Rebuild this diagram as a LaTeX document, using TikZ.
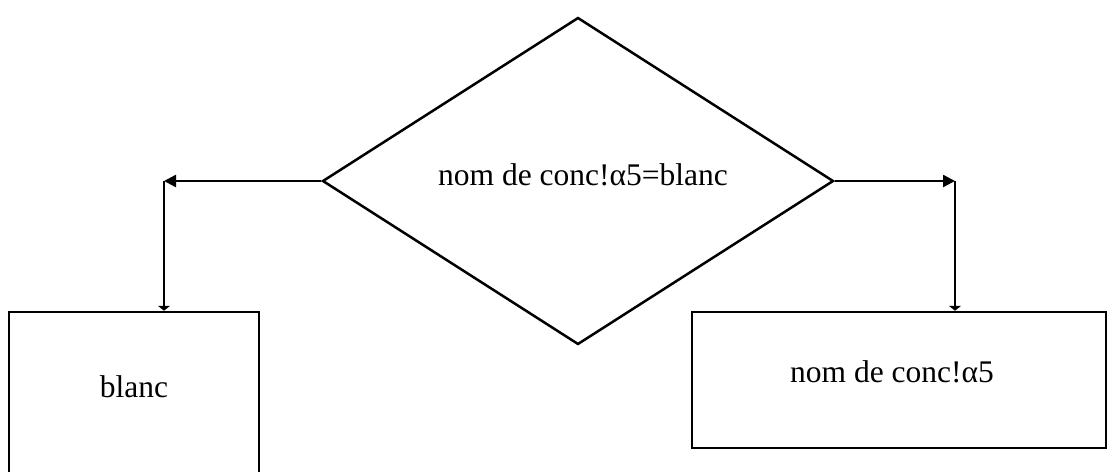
\documentclass[tikz,border=0pt]{standalone}
\usepackage{fontspec}
\setmainfont{Liberation Serif}
\usetikzlibrary{shapes.geometric,arrows.meta}
\begin{document}
\begin{tikzpicture}[x=1pt, y=-1pt, line width=2.5pt,
    test/.style={draw, diamond, minimum width=511pt, minimum height=327pt, inner sep=0pt},
    boxe/.style={draw, rectangle, inner sep=0pt},
    lbl/.style={font=\fontsize{31.5}{38}\selectfont},
    bigtip/.style={-{Triangle[length=12pt,width=12pt]}},
    smalltip/.style={-{Triangle[length=5pt,width=12pt]}}]
      % page and clip
      \useasboundingbox (0,0) rectangle (1113,471);
      \clip (0,0) rectangle (1113,471);

      % decision
      \node[test] (cond) at (578,181) {};
      \node[lbl] (condtxt) at (583,175) {nom de conc!α5=blanc};

      % boxes
      \node[boxe, minimum width=250pt, minimum height=200pt] (left) at (134,412) {};
      \node[lbl] (lefttxt) at (134,387) {blanc};
      \node[boxe, minimum width=414pt, minimum height=136pt] (right) at (899,380) {};
      \node[lbl] (righttxt) at (892,372) {nom de conc!α5};

      % corners of the connectors
      \coordinate (lcorner) at (164,181);
      \coordinate (rcorner) at (955,181);

      % connectors
      \draw[bigtip] (cond.west) -- (lcorner);
      \draw[smalltip] (lcorner) -- (lcorner |- left.north);
      \draw[bigtip] (cond.east) -- (rcorner);
      \draw[smalltip] (rcorner) -- (rcorner |- right.north);
    \end{tikzpicture}
\end{document}
